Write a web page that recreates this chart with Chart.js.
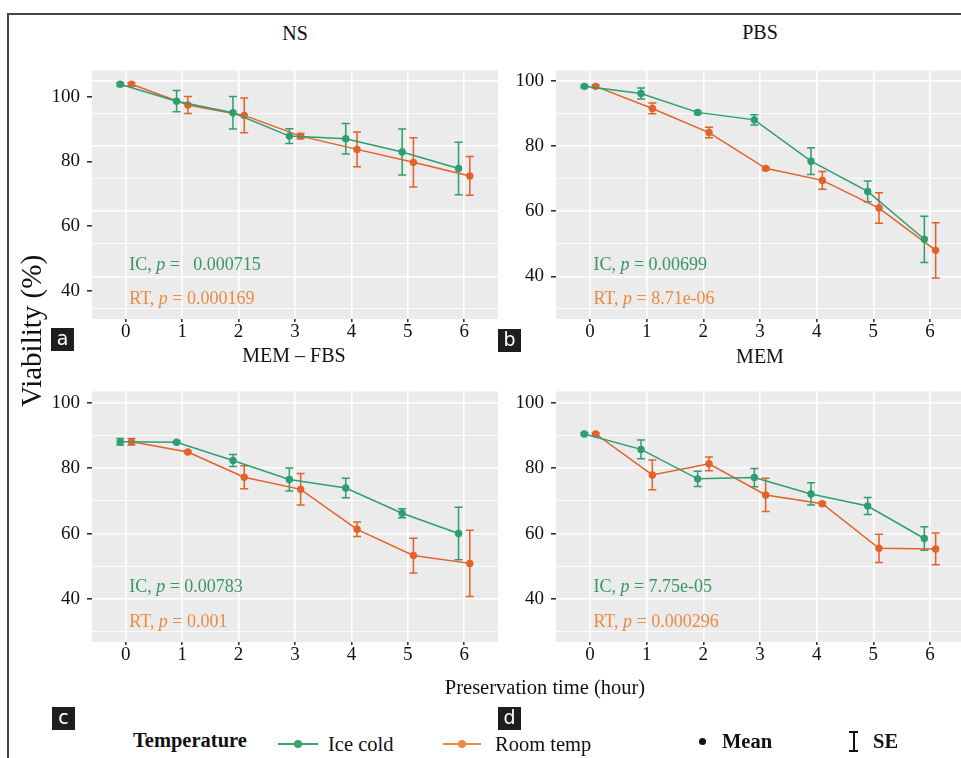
<!DOCTYPE html>
<html>
<head>
<meta charset="utf-8">
<script src="https://cdn.jsdelivr.net/npm/chart.js@4"></script>
<style>
body { margin: 0; background: #fff; }
#wrap { position: relative; width: 961px; height: 758px; overflow: hidden; font-family: 'Liberation Serif', serif; color: #111; }
canvas { position: absolute; }
.fr { position: absolute; background: #444; }
.ttl { position: absolute; font-size: 20px; transform: translate(-50%, -50%); white-space: nowrap; }
.tag { position: absolute; width: 23px; height: 23px; background: #1e1e1e; color: #fff; font-family: 'DejaVu Sans', sans-serif; font-size: 19px; line-height: 21px; text-align: center; z-index: 5; }
.lg { position: absolute; font-size: 20.5px; transform: translateY(-50%); white-space: nowrap; }
.ln { position: absolute; height: 2px; }
.dot { position: absolute; border-radius: 50%; }
</style>
</head>
<body>
<div id="wrap">
  <div class="fr" style="left:8px;top:13px;width:960px;height:2px"></div>
  <div class="fr" style="left:7px;top:13px;width:2px;height:760px"></div>

  <canvas id="pNS" width="466" height="302" style="left:32px;top:52px"></canvas>
  <canvas id="pPBS" width="468" height="302" style="left:496px;top:52px"></canvas>
  <canvas id="pFBS" width="466" height="304" style="left:32px;top:373px"></canvas>
  <canvas id="pMEM" width="468" height="304" style="left:496px;top:373px"></canvas>

  <div class="ttl" style="left:295px;top:33px">NS</div>
  <div class="ttl" style="left:760px;top:32px">PBS</div>
  <div class="ttl" style="left:294px;top:355px">MEM – FBS</div>
  <div class="ttl" style="left:760px;top:356px">MEM</div>

  <div class="ttl" style="left:31px;top:331px;font-size:29px;transform:translate(-50%,-50%) rotate(-90deg)">Viability (%)</div>
  <div class="ttl" style="left:545px;top:687px;font-size:20.5px">Preservation time (hour)</div>

  <div class="tag" style="left:51px;top:328px">a</div>
  <div class="tag" style="left:498px;top:329px">b</div>
  <div class="tag" style="left:52px;top:707px">c</div>
  <div class="tag" style="left:498px;top:707px">d</div>

  <!-- legenda -->
  <div class="lg" style="left:133px;top:740px;font-weight:bold">Temperature</div>
  <div class="ln" style="left:278px;top:743px;width:40px;background:#3aa46a"></div>
  <div class="dot" style="left:294px;top:740px;width:8px;height:8px;background:#3aa46a"></div>
  <div class="lg" style="left:328px;top:744px">Ice cold</div>
  <div class="ln" style="left:443px;top:743px;width:38px;background:#ea8a45"></div>
  <div class="dot" style="left:458px;top:740px;width:8px;height:8px;background:#ea8a45"></div>
  <div class="lg" style="left:495px;top:744px">Room temp</div>
  <div class="dot" style="left:699px;top:738px;width:7px;height:7px;background:#111"></div>
  <div class="lg" style="left:722px;top:741px;font-weight:bold">Mean</div>
  <div class="ln" style="left:849px;top:731px;width:9px;background:#111"></div>
  <div class="ln" style="left:853px;top:731px;width:2px;height:21px;background:#111"></div>
  <div class="ln" style="left:849px;top:750px;width:9px;background:#111"></div>
  <div class="lg" style="left:873px;top:741px;font-weight:bold">SE</div>
</div>
<script>
// Dados //
const hours = [0, 1, 2, 3, 4, 5, 6];
const majorY = [40, 60, 80, 100];
const minorY = [30, 50, 70, 90];

const nsIC = [103.8, 98.6, 95.0, 87.8, 87.0, 82.9, 77.8];
const nsICse = [0.5, 3.3, 5.0, 2.3, 4.7, 7.1, 8.1];
const nsRT = [103.8, 97.4, 94.2, 87.8, 83.7, 79.7, 75.5];
const nsRTse = [0.5, 2.6, 5.4, 0.8, 5.4, 7.6, 6.0];

const pbsIC = [98.4, 96.2, 90.4, 88.1, 75.4, 66.1, 51.4];
const pbsICse = [0.4, 1.7, 0.5, 1.6, 4.1, 3.2, 7.1];
const pbsRT = [98.4, 91.6, 84.2, 73.2, 69.5, 61.0, 48.0];
const pbsRTse = [0.4, 1.65, 1.6, 0.5, 2.7, 4.7, 8.5];

const fbsIC = [88.0, 87.9, 82.3, 76.5, 73.9, 66.2, 60.0];
const fbsICse = [1.0, 0.3, 1.8, 3.5, 3.0, 1.4, 8.0];
const fbsRT = [88.0, 84.9, 77.2, 73.5, 61.3, 53.3, 50.9];
const fbsRTse = [1.0, 0.3, 3.5, 4.8, 2.2, 5.3, 10.1];

const memIC = [90.4, 85.7, 76.7, 77.1, 72.1, 68.4, 58.5];
const memICse = [0.4, 2.85, 2.3, 2.8, 3.4, 2.6, 3.6];
const memRT = [90.4, 77.9, 81.3, 71.8, 69.1, 55.5, 55.3];
const memRTse = [0.4, 4.55, 2.1, 5.1, 0.5, 4.3, 4.85];

const pNS = ['  0.000715', '0.000169'];
const pPBS = ['0.00699', '8.71e-06'];
const pFBS = ['0.00783', '0.001'];
const pMEM = ['7.75e-05', '0.000296'];

const corIC = '#2e9e70';
const corRT = '#e2622a';
const txtIC = '#3b9660';
const txtRT = '#ea8a45';
const serif = 'Liberation Serif';

Chart.defaults.font.family = serif;
Chart.defaults.color = '#111';

// Plugin: fundo cinza, barras de erro e textos de p //
const decoPlugin = {
    id: 'deco',
    beforeDraw(chart) {
        const a = chart.chartArea;
        const ctx = chart.ctx;
        ctx.save();
        ctx.fillStyle = '#EBEBEB';
        ctx.fillRect(a.left, a.top, a.right - a.left, a.bottom - a.top);
        ctx.restore();
    },
    beforeDatasetsDraw(chart) {
        const ctx = chart.ctx;
        const xs = chart.scales.x, ys = chart.scales.y;
        ctx.save();
        chart.data.datasets.forEach(ds => {
            ctx.strokeStyle = ds.borderColor;
            ctx.lineWidth = 1.5;
            ds.data.forEach((p, j) => {
                const x = xs.getPixelForValue(p.x);
                const y1 = ys.getPixelForValue(p.y + ds.se[j]);
                const y2 = ys.getPixelForValue(p.y - ds.se[j]);
                ctx.beginPath();
                ctx.moveTo(x, y1); ctx.lineTo(x, y2);
                ctx.moveTo(x - 4, y1); ctx.lineTo(x + 4, y1);
                ctx.moveTo(x - 4, y2); ctx.lineTo(x + 4, y2);
                ctx.stroke();
            });
        });
        ctx.restore();
    },
    afterDatasetsDraw(chart, args, opts) {
        const ctx = chart.ctx;
        const xs = chart.scales.x, ys = chart.scales[opts.gridAxis];
        const texts = [['IC, ', opts.labels[0], txtIC, 43.5], ['RT, ', opts.labels[1], txtRT, 33.0]];
        ctx.save();
        ctx.textBaseline = 'middle';
        ctx.textAlign = 'left';
        texts.forEach(t => {
            let x = xs.getPixelForValue(0.06);
            const y = ys.getPixelForValue(t[3]);
            ctx.fillStyle = t[2];
            ctx.font = "18px 'Liberation Serif'";
            ctx.fillText(t[0], x, y);
            x += ctx.measureText(t[0]).width;
            ctx.font = "italic 18px 'Liberation Serif'";
            ctx.fillText('p', x, y);
            x += ctx.measureText('p').width;
            ctx.font = "18px 'Liberation Serif'";
            ctx.fillText(' = ' + t[1], x, y);
        });
        ctx.restore();
    }
};

function pontos(vals, desloc) {
    return hours.map((h, i) => ({ x: h + desloc, y: vals[i] }));
}

function eixoY(min, max, comGrade, comRotulo) {
    const todos = minorY.concat(majorY).sort((a, b) => a - b);
    return {
        position: 'left',
        min: min,
        max: max,
        afterBuildTicks: s => { s.ticks = (comRotulo && !comGrade ? majorY : todos).map(v => ({ value: v })); },
        afterFit: s => { s.width = comRotulo ? 60 : 0; },
        border: { display: false },
        grid: {
            color: comGrade ? '#fff' : 'rgba(0,0,0,0)',
            lineWidth: c => majorY.includes(c.tick.value) ? 1.6 : 0.8,
            tickColor: c => (comRotulo && majorY.includes(c.tick.value)) ? '#333' : 'rgba(0,0,0,0)',
            tickLength: 5,
            drawTicks: comRotulo
        },
        ticks: {
            display: comRotulo,
            autoSkip: false,
            padding: 7,
            font: { family: serif, size: 19 },
            color: '#111',
            callback: v => majorY.includes(v) ? String(v) : ''
        }
    };
}

function criaPainel(id, ic, icSe, rt, rtSe, labels, yMin, yMax, gMin, gMax) {
    const separado = gMin !== undefined;
    const scales = {
        x: {
            type: 'linear',
            min: -0.6,
            max: 6.6,
            afterBuildTicks: s => { s.ticks = hours.map(v => ({ value: v })); },
            afterFit: s => { s.height = 35; },
            border: { display: false },
            grid: { color: '#fff', lineWidth: 1.6, tickColor: '#333', tickLength: 3 },
            ticks: { autoSkip: false, maxRotation: 0, padding: -1, font: { family: serif, size: 19 }, color: '#111' }
        },
        y: eixoY(yMin, yMax, !separado, true)
    };
    if (separado) {
        scales.yg = eixoY(gMin, gMax, true, false);
    }
    return new Chart(document.getElementById(id), {
        type: 'line',
        data: {
            datasets: [{
                label: 'Ice cold',
                data: pontos(ic, -0.1),
                se: icSe,
                borderColor: corIC,
                backgroundColor: corIC,
                borderWidth: 1.5,
                pointRadius: 3.7,
                pointBorderWidth: 0,
                yAxisID: 'y'
            }, {
                label: 'Room temp',
                data: pontos(rt, 0.1),
                se: rtSe,
                borderColor: corRT,
                backgroundColor: corRT,
                borderWidth: 1.5,
                pointRadius: 3.7,
                pointBorderWidth: 0,
                yAxisID: 'y'
            }]
        },
        options: {
            responsive: false,
            animation: false,
            devicePixelRatio: 1,
            layout: { padding: 0, autoPadding: false },
            scales: scales,
            plugins: {
                legend: { display: false },
                tooltip: { enabled: false },
                deco: { labels: labels, gridAxis: separado ? 'yg' : 'y' }
            }
        },
        plugins: [decoPlugin]
    });
}

criaPainel('pNS', nsIC, nsICse, nsRT, nsRTse, pNS, 31.3, 108.1, 26.9, 103.3);
criaPainel('pPBS', pbsIC, pbsICse, pbsRT, pbsRTse, pPBS, 26.9, 103.3);
criaPainel('pFBS', fbsIC, fbsICse, fbsRT, fbsRTse, pFBS, 26.9, 103.4);
criaPainel('pMEM', memIC, memICse, memRT, memRTse, pMEM, 26.9, 103.4);
</script>
</body>
</html>
